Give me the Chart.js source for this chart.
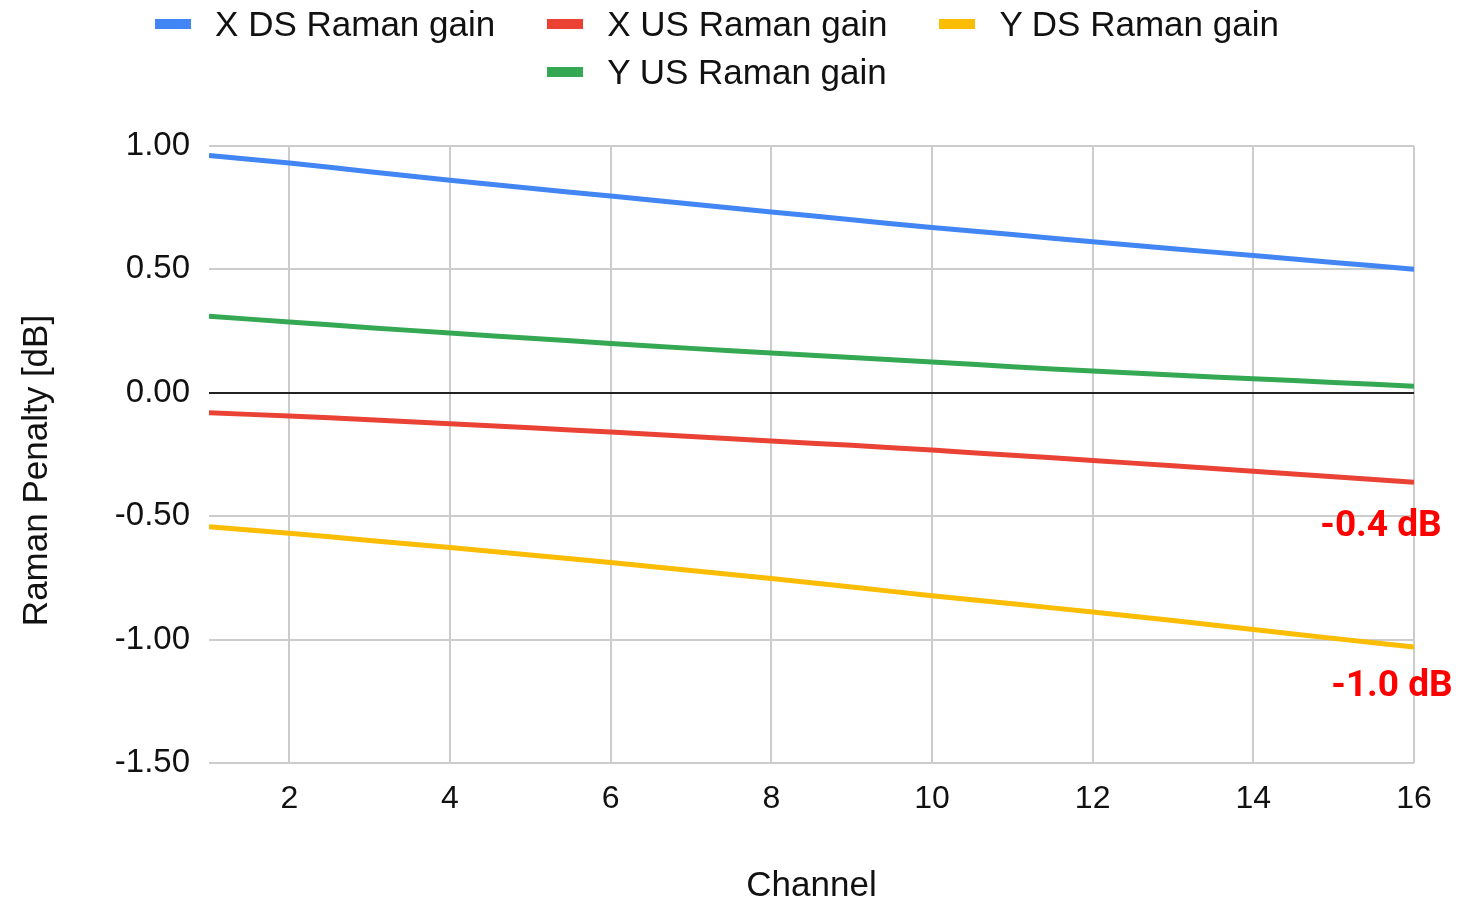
<!DOCTYPE html>
<html>
<head>
<meta charset="utf-8">
<title>Raman Penalty per Channel</title>
<script src="https://cdn.jsdelivr.net/npm/chart.js@4/dist/chart.umd.min.js"></script>
<style>
  html, body { margin: 0; padding: 0; background: #fff; }
  #wrap { position: relative; width: 1471px; height: 901px; overflow: hidden; }
  #chart { position: absolute; left: 0; top: 0; }
  #legend {
    position: absolute; left: 0; top: 0; width: 1434px;
    display: flex; flex-wrap: wrap; justify-content: center; column-gap: 52px;
    font: 35px "Liberation Sans", Arial, sans-serif; line-height: 48px; color: #111;
  }
  .item { display: flex; align-items: center; white-space: nowrap; }
  .swatch { width: 36px; height: 10px; margin-right: 24px; }
</style>
</head>
<body>
<div id="wrap">
  <canvas id="chart" width="1471" height="901"></canvas>
  <div id="legend"></div>
</div>
<script>
// Channel numbers along the x axis
const channels = [1, 2, 3, 4, 5, 6, 7, 8, 9, 10, 11, 12, 13, 14, 15, 16];

// Raman penalty per channel [dB]
const xDsGain = [0.962, 0.931, 0.896, 0.861, 0.829, 0.797, 0.765, 0.733, 0.701, 0.670, 0.641, 0.612, 0.584, 0.556, 0.528, 0.501];
const xUsGain = [-0.081, -0.094, -0.109, -0.125, -0.142, -0.159, -0.177, -0.195, -0.213, -0.232, -0.253, -0.274, -0.296, -0.318, -0.340, -0.362];
const yDsGain = [-0.543, -0.569, -0.598, -0.627, -0.657, -0.688, -0.720, -0.752, -0.787, -0.822, -0.855, -0.888, -0.923, -0.959, -0.995, -1.030];
const yUsGain = [0.310, 0.287, 0.264, 0.242, 0.221, 0.200, 0.180, 0.161, 0.143, 0.125, 0.106, 0.088, 0.072, 0.057, 0.042, 0.027];

const seriesNames = ['X DS Raman gain', 'X US Raman gain', 'Y DS Raman gain', 'Y US Raman gain'];
const seriesValues = [xDsGain, xUsGain, yDsGain, yUsGain];
const seriesColors = ['#4285F4', '#EA4335', '#FBBC04', '#34A853'];

// Tick positions
const xTickValues = [2, 4, 6, 8, 10, 12, 14, 16];
const yTickValues = [-1.5, -1.0, -0.5, 0, 0.5, 1.0];

const yAxisTitle = 'Raman Penalty [dB]';

// Series whose end value gets a red callout
const calloutSeries = [1, 2];
const calloutOffsets = [{ dx: -33, dy: 45 }, { dx: -22, dy: 40 }];

const FONT = '"Liberation Sans", Arial, sans-serif';
const TEXT = '#111';

// HTML legend
const legendEl = document.getElementById('legend');
seriesNames.forEach((name, i) => {
  const item = document.createElement('div');
  item.className = 'item';
  const sw = document.createElement('span');
  sw.className = 'swatch';
  sw.style.background = seriesColors[i];
  const label = document.createElement('span');
  label.textContent = name;
  item.appendChild(sw);
  item.appendChild(label);
  legendEl.appendChild(item);
});

// Red end-value callouts next to the last point of chosen series
const endCallouts = {
  id: 'endCallouts',
  afterDatasetsDraw(chart) {
    const ctx = chart.ctx;
    ctx.save();
    ctx.font = 'bold 37px Roboto, "Liberation Sans", sans-serif';
    ctx.fillStyle = '#FF0000';
    ctx.textAlign = 'center';
    ctx.textBaseline = 'middle';
    calloutSeries.forEach((si, k) => {
      const pts = chart.getDatasetMeta(si).data;
      const last = pts[pts.length - 1];
      const vals = seriesValues[si];
      const text = vals[vals.length - 1].toFixed(1) + ' dB';
      ctx.fillText(text, last.x + calloutOffsets[k].dx, last.y + calloutOffsets[k].dy);
    });
    ctx.restore();
  }
};

// Rotated y-axis title, set slightly below the plot centre
const yTitle = {
  id: 'yTitle',
  afterDraw(chart) {
    const { ctx, chartArea } = chart;
    ctx.save();
    ctx.translate(37, (chartArea.top + chartArea.bottom) / 2 + 16);
    ctx.rotate(-Math.PI / 2);
    ctx.font = '35px ' + FONT;
    ctx.fillStyle = TEXT;
    ctx.textAlign = 'center';
    ctx.textBaseline = 'middle';
    ctx.fillText(yAxisTitle, 0, 0);
    ctx.restore();
  }
};

new Chart(document.getElementById('chart'), {
  type: 'line',
  data: {
    datasets: seriesNames.map((name, i) => ({
      label: name,
      data: channels.map((c, j) => ({ x: c, y: seriesValues[i][j] })),
      borderColor: seriesColors[i],
      backgroundColor: seriesColors[i],
      borderWidth: 5,
      pointRadius: 0,
      tension: 0.2,
      fill: false
    }))
  },
  options: {
    responsive: false,
    animation: false,
    devicePixelRatio: 1,
    layout: { padding: { top: 146, right: 57, bottom: 0, left: 0 } },
    plugins: {
      legend: { display: false },
      tooltip: { enabled: false }
    },
    scales: {
      x: {
        type: 'linear',
        min: 1,
        max: 16,
        afterBuildTicks(axis) { axis.ticks = xTickValues.map(v => ({ value: v })); },
        afterFit(axis) { axis.height = 138; },
        ticks: {
          autoSkip: false,
          maxRotation: 0,
          padding: 17,
          color: TEXT,
          font: { family: FONT, size: 32 }
        },
        grid: { color: '#cccccc', lineWidth: 2, drawTicks: false },
        border: { display: false },
        title: {
          display: true,
          text: 'Channel',
          color: TEXT,
          font: { family: FONT, size: 35, lineHeight: '30px' },
          padding: { top: 0, bottom: 0 }
        }
      },
      y: {
        min: -1.5,
        max: 1.0,
        afterBuildTicks(axis) { axis.ticks = yTickValues.map(v => ({ value: v })); },
        afterFit(axis) { axis.width = 209; },
        ticks: {
          padding: 19,
          color: TEXT,
          font: { family: FONT, size: 33 },
          callback: v => Number(v).toFixed(2)
        },
        grid: {
          color: c => (c.tick && c.tick.value === 0 ? '#222222' : '#cccccc'),
          lineWidth: 2,
          drawTicks: false
        },
        border: { display: false },
        title: { display: false }
      }
    }
  },
  plugins: [endCallouts, yTitle]
});
</script>
</body>
</html>
